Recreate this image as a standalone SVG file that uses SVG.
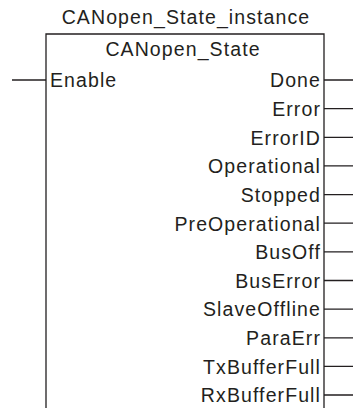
<svg xmlns="http://www.w3.org/2000/svg" width="353" height="408" viewBox="0 0 353 408">
<style>
text{font-family:"Liberation Sans",Arial,sans-serif;font-size:19.5px;fill:#231f20;letter-spacing:1.1px}
.r{text-anchor:end}
.c{text-anchor:middle}
.ln{stroke:#231f20;stroke-width:1.3;fill:none}
</style>
<rect width="353" height="408" fill="#fff"/>
<g id="block">
<text class="c" x="186" y="24">CANopen_State_instance</text>
<path class="ln" d="M46,408 V34 H324 V408"/>
<text class="c" x="183" y="55.5">CANopen_State</text>
</g>
<g id="inputs">
<text x="50" y="87.3">Enable</text>
</g>
<g id="outputs">
<text class="r" x="321" y="87.3">Done</text>
<text class="r" x="321" y="115.9">Error</text>
<text class="r" x="321" y="144.6">ErrorID</text>
<text class="r" x="321" y="173.2">Operational</text>
<text class="r" x="321" y="201.9">Stopped</text>
<text class="r" x="321" y="230.5">PreOperational</text>
<text class="r" x="321" y="259.1">BusOff</text>
<text class="r" x="321" y="287.8">BusError</text>
<text class="r" x="321" y="316.4">SlaveOffline</text>
<text class="r" x="321" y="345.1">ParaErr</text>
<text class="r" x="321" y="373.7">TxBufferFull</text>
<text class="r" x="321" y="402.3">RxBufferFull</text>
</g>
<g id="connectors" class="ln">
<path d="M12,80 H46"/>
<path d="M324,80 H353 M324,108.6 H353 M324,137.3 H353 M324,165.9 H353 M324,194.6 H353 M324,223.2 H353 M324,251.8 H353 M324,280.5 H353 M324,309.1 H353 M324,337.8 H353 M324,366.4 H353 M324,395 H353"/>
</g>
</svg>
